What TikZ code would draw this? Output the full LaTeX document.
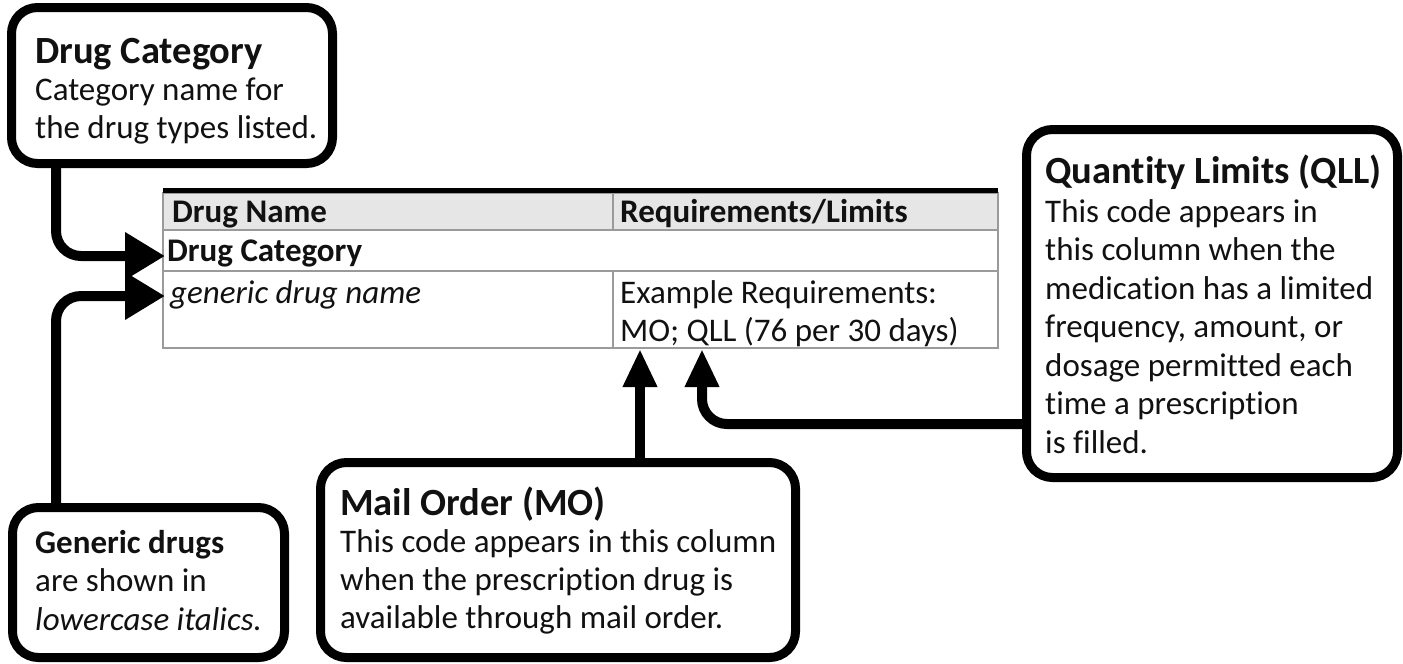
\documentclass[tikz,border=0pt]{standalone}
\usepackage{fontspec}
\setmainfont{Carlito}[Ligatures=NoCommon]
\usetikzlibrary{arrows.meta}
\definecolor{hdrgray}{HTML}{E6E6E6}
\definecolor{rulegray}{HTML}{9A9A9A}
\definecolor{ink}{HTML}{111111}
\begin{document}
\begin{tikzpicture}[x=1pt,y=-1pt,
  callout/.style={draw=black, line width=9pt, rounded corners=26pt, fill=white, inner sep=0pt, rectangle},
  conn/.style={draw=black, line width=10pt, rounded corners=25pt},
  hhead/.style={-{Triangle[length=40pt,width=45pt]}},
  vhead/.style={-{Triangle[length=38pt,width=32pt]}},
  txt/.style={anchor=base west, inner sep=0pt, text=ink, font=\fontsize{33}{38}\selectfont},
  btxt/.style={txt, font=\fontsize{33}{38}\selectfont\bfseries},
  itxt/.style={txt, font=\fontsize{33}{38}\selectfont\itshape},
  ttl/.style={txt, font=\fontsize{38.5}{44}\selectfont\bfseries},
  rule/.style={draw=rulegray, line width=1.5pt}
]
\useasboundingbox (0,0) rectangle (1403,664);

% ---- callout boxes
\node[callout, minimum width=321pt, minimum height=156pt] (boxA) at (172,85.5) {};
\node[callout, minimum width=371pt, minimum height=348pt] (boxQ) at (1212,303.5) {};
\node[callout, minimum width=272pt, minimum height=150pt] (boxG) at (148.5,582.5) {};
\node[callout, minimum width=475pt, minimum height=195pt] (boxM) at (558,560) {};

% ---- table
\fill[hdrgray] (163,193) rectangle (998,230);
\draw[rule] (163,193) rectangle (998,348);
\draw[rule] (163,230) -- (998,230);
\draw[rule] (163,271) -- (998,271);
\draw[rule] (613,193) -- (613,230);
\draw[rule] (613,271) -- (613,348);
\draw[black, line width=5pt] (163,190.5) -- (998,190.5);

\node[btxt] (hname) at (172,222) {Drug Name};
\node[btxt] (hreq) at (620,222) {Requirements/Limits};
\node[btxt] (cat) at (167,261) {Drug Category};
\node[itxt] (gen) at (170,303) {generic drug name};
\node[txt] (ex1) at (620,303) {Example Requirements:};
\node[txt] (ex2) at (620,341) {MO; QLL (76 per 30 days)};

% ---- callout texts
\node[ttl] (tA) at (35,63) {Drug Category};
\node[txt] (tA1) at (35,100.5) {Category name for};
\node[txt] (tA2) at (35,138.5) {the drug types listed.};

\node[ttl] (tQ) at (1045,183) {Quantity Limits (QLL)};
\node[txt] (tQ1) at (1045,222) {This code appears in};
\node[txt] (tQ2) at (1045,260.5) {this column when the};
\node[txt] (tQ3) at (1045,299) {medication has a limited};
\node[txt] (tQ4) at (1045,337.5) {frequency, amount, or};
\node[txt] (tQ5) at (1045,376) {dosage permitted each};
\node[txt] (tQ6) at (1045,414.5) {time a prescription};
\node[txt] (tQ7) at (1045,453) {is filled.};

\node[btxt] (tG) at (35,553) {Generic drugs};
\node[txt] (tG1) at (35,591.5) {are shown in};
\node[itxt] (tG2) at (35,630) {lowercase italics.};

\node[ttl] (tM) at (340,515) {Mail Order (MO)};
\node[txt] (tM1) at (340,552.5) {This code appears in this column};
\node[txt] (tM2) at (340,590.5) {when the prescription drug is};
\node[txt] (tM3) at (340,628.5) {available through mail order.};

% ---- connectors
\coordinate (xA) at (56,0);
\coordinate (tipA) at (165,256);
\coordinate (tipG) at (165,296);
\coordinate (tipM) at (640,349);
\coordinate (tipQ) at (702,349);
\coordinate (hQ) at (0,424);

\draw[conn, hhead] (boxA.south -| xA) |- (tipA);
\draw[conn, hhead] (boxG.north -| xA) |- (tipG);
\draw[conn, vhead] (boxM.north -| tipM) -- (tipM);
\draw[conn, vhead] (boxQ.west |- hQ) -| (tipQ);
\end{tikzpicture}
\end{document}
